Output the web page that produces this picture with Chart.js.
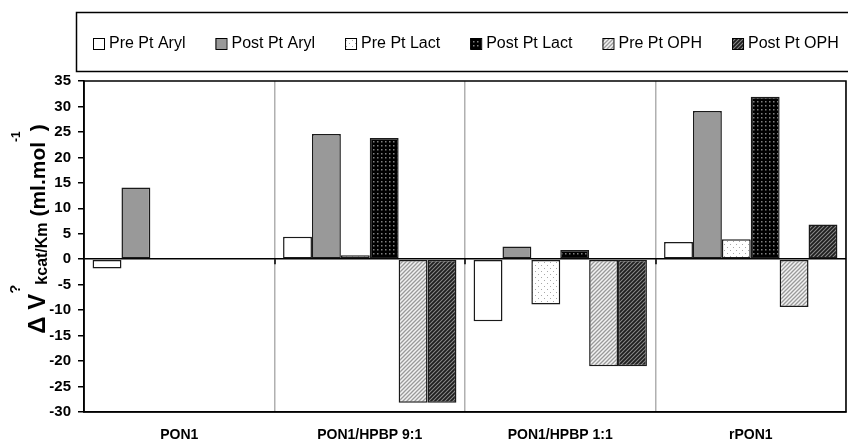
<!DOCTYPE html>
<html>
<head>
<meta charset="utf-8">
<script src="https://cdn.jsdelivr.net/npm/chart.js@4/dist/chart.umd.min.js"></script>
<style>
html, body { margin: 0; padding: 0; background: #fff; overflow: hidden; }
#wrap { width: 848px; height: 441px; }
</style>
</head>
<body>
<div id="wrap"><canvas id="chart" width="848" height="441"></canvas></div>
<script>
const categories = ['PON1', 'PON1/HPBP 9:1', 'PON1/HPBP 1:1', 'rPON1'];
const seriesNames = ['Pre Pt Aryl', 'Post Pt Aryl', 'Pre Pt Lact', 'Post Pt Lact', 'Pre Pt OPH', 'Post Pt OPH'];
const preAryl  = [-1.8, 4.4, -12.2, 3.4];
const postAryl = [14.1, 24.6, 2.5, 29.1];
const preLact  = [null, 0.8, -8.9, 3.9];
const postLact = [null, 23.8, 1.8, 31.9];
const preOPH   = [null, -28.2, -21.0, -9.4];
const postOPH  = [null, -28.2, -21.0, 6.8];
const yTicks = { min: -30, max: 35, step: 5 };

const FONT = '"Liberation Sans", Arial, sans-serif';

// little tiles for the hatch / dot fills
function makePattern(kind) {
    var c = document.createElement('canvas');
    var g = c.getContext('2d');
    if (kind == 'dotsLight') {
        c.width = 6; c.height = 6;
        g.fillStyle = '#fff'; g.fillRect(0, 0, 6, 6);
        g.fillStyle = '#a8a8a8';
        g.fillRect(1, 1, 1, 1);
        g.fillRect(4, 4, 1, 1);
    } else if (kind == 'dotsDark') {
        c.width = 4; c.height = 4;
        g.fillStyle = '#000'; g.fillRect(0, 0, 4, 4);
        g.fillStyle = '#808080';
        g.fillRect(1, 1, 1.5, 1.5);
    } else {
        c.width = 4; c.height = 4;
        g.fillStyle = kind == 'hatchLight' ? '#f2f2f2' : '#8a8a8a';
        g.fillRect(0, 0, 4, 4);
        g.strokeStyle = kind == 'hatchLight' ? '#9a9a9a' : '#1e1e1e';
        g.lineWidth = kind == 'hatchLight' ? 1.3 : 1.8;
        g.beginPath();
        g.moveTo(-1, 5); g.lineTo(5, -1);
        g.moveTo(-1, 1); g.lineTo(1, -1);
        g.moveTo(3, 5); g.lineTo(5, 3);
        g.stroke();
    }
    return g.createPattern(c, 'repeat');
}

const fills = ['#ffffff', '#999999', makePattern('dotsLight'), makePattern('dotsDark'), makePattern('hatchLight'), makePattern('hatchDark')];
const values = [preAryl, postAryl, preLact, postLact, preOPH, postOPH];

const datasets = seriesNames.map(function(name, i) {
    return {
        label: name,
        data: values[i],
        backgroundColor: fills[i],
        borderColor: '#1a1a1a',
        borderWidth: 1.5,
        borderSkipped: false,
        categoryPercentage: 0.91,
        barPercentage: 1.0
    };
});

// legend drawn by hand so the box can run off the right edge like the original
const legendBox = {
    id: 'legendBox',
    afterDraw(chart) {
        const ctx = chart.ctx;
        ctx.save();
        ctx.strokeStyle = '#000';
        ctx.lineWidth = 1.5;
        ctx.strokeRect(76.5, 12.5, 820, 59);
        ctx.font = '16px ' + FONT;
        ctx.textBaseline = 'middle';
        let x = 93;
        chart.data.datasets.forEach(function(ds) {
            ctx.fillStyle = ds.backgroundColor;
            ctx.fillRect(x, 38, 11, 11);
            ctx.lineWidth = 1;
            ctx.strokeStyle = '#000';
            ctx.strokeRect(x + 0.5, 38.5, 11, 11);
            ctx.fillStyle = '#000';
            ctx.fillText(ds.label, x + 16, 44);
            x += 16 + ctx.measureText(ds.label).width + 30;
        });
        ctx.restore();
    }
};

// frame, small ticks on the zero line, and the y title with sub/superscripts
const extras = {
    id: 'extras',
    afterDraw(chart) {
        const ctx = chart.ctx;
        const a = chart.chartArea;
        const y0 = chart.scales.y.getPixelForValue(0);
        ctx.save();
        ctx.strokeStyle = '#000';
        ctx.lineWidth = 1.5;
        ctx.strokeRect(a.left, a.top, a.right - a.left, a.bottom - a.top);
        const step = (a.right - a.left) / categories.length;
        ctx.beginPath();
        for (let i = 1; i < categories.length; i++) {
            const bx = Math.round(a.left + i * step);
            ctx.moveTo(bx, y0); ctx.lineTo(bx, y0 + 5);
        }
        ctx.stroke();

        const segs = [
            { t: 'Δ V', f: 'bold 24px ', dy: 0 },
            { t: '?', f: 'bold 15px ', dy: -25 },
            { t: 'kcat/Km', f: 'bold 16px ', dy: 2 },
            { t: ' (ml.mol', f: 'bold 21px ', dy: 0 },
            { t: '-1', f: 'bold 12px ', dy: -25 },
            { t: ')', f: 'bold 21px ', dy: 0 }
        ];
        let total = 0;
        segs.forEach(function(s) { ctx.font = s.f + FONT; s.w = ctx.measureText(s.t).width; total += s.w; });
        ctx.translate(45, 229);
        ctx.rotate(-Math.PI / 2);
        ctx.fillStyle = '#000';
        ctx.textBaseline = 'alphabetic';
        let x = -total / 2;
        segs.forEach(function(s) {
            ctx.font = s.f + FONT;
            ctx.fillText(s.t, x, s.dy);
            x += s.w;
        });
        ctx.restore();
    }
};

new Chart(document.getElementById('chart'), {
    type: 'bar',
    data: { labels: categories, datasets: datasets },
    options: {
        responsive: false,
        animation: false,
        layout: { padding: { top: 81, right: 2, left: 0, bottom: 0 } },
        plugins: { legend: { display: false }, tooltip: { enabled: false } },
        scales: {
            x: {
                offset: true,
                grid: { offset: true, color: '#b0b0b0', lineWidth: 1.5, drawTicks: false },
                border: { color: '#000', width: 1.5 },
                ticks: { color: '#000', padding: 15, font: { family: FONT, size: 14, weight: 'bold' } },
                afterFit: function(scale) { scale.height = 29; }
            },
            y: {
                min: yTicks.min,
                max: yTicks.max,
                ticks: { stepSize: yTicks.step, color: '#000', padding: 7, font: { family: FONT, size: 15, weight: 'bold' } },
                grid: {
                    color: function(c) { return c.tick && c.tick.value === 0 ? '#000' : 'rgba(0,0,0,0)'; },
                    lineWidth: 1.5,
                    tickColor: '#000',
                    tickLength: 6
                },
                border: { color: '#000', width: 1.5 },
                afterFit: function(scale) { scale.width = 84; }
            }
        }
    },
    plugins: [legendBox, extras]
});
</script>
</body>
</html>
